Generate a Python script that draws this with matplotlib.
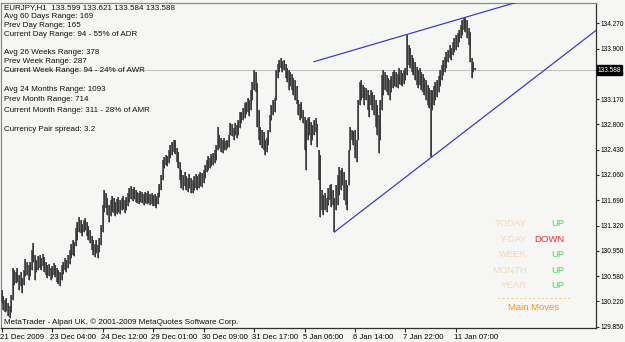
import matplotlib
matplotlib.use("Agg")
import matplotlib.pyplot as plt
import matplotlib.transforms as mtransforms

plt.rcParams['font.family'] = ['Liberation Sans', 'DejaVu Sans']

# ---- data: EURJPY H1 bars (high / low) ----
highs = [
130.38,130.30,130.24,130.27,130.20,130.15,130.31,130.71,130.68,130.65,
130.71,130.60,130.65,130.56,130.68,130.84,130.79,130.75,130.79,130.97,
131.07,130.89,130.82,130.88,130.89,130.85,130.91,130.87,130.79,130.75,
130.76,130.71,130.73,130.78,130.75,130.71,130.68,130.65,130.75,130.79,
130.85,130.82,130.89,130.97,131.05,131.11,131.08,131.29,131.37,131.45,
131.40,131.35,131.40,131.43,131.37,131.32,131.26,131.17,131.11,131.05,
131.11,131.04,131.14,131.33,131.62,131.84,131.80,131.72,131.62,131.70,
131.75,131.72,131.67,131.71,131.74,131.70,131.72,131.75,131.70,131.74,
131.80,131.87,131.90,131.86,131.89,131.84,131.81,131.80,131.83,131.81,
131.78,131.81,131.80,131.83,131.78,131.80,131.77,131.78,131.75,131.80,
131.93,132.06,132.28,132.32,132.35,132.34,132.42,132.50,132.54,132.57,
132.57,132.45,132.39,132.25,132.13,132.06,132.10,132.05,132.02,132.07,
132.02,131.99,132.05,132.07,132.05,132.07,132.10,132.09,132.13,132.21,
132.28,132.34,132.31,132.37,132.38,132.42,132.50,132.76,132.64,132.60,
132.57,132.60,132.56,132.57,132.64,132.82,132.80,132.74,132.82,132.79,
132.86,132.98,132.98,133.04,133.11,133.12,133.18,133.15,133.30,133.41,
133.59,133.56,133.40,133.01,132.76,132.72,132.69,132.57,132.60,132.72,
132.93,133.08,133.15,133.18,133.59,133.68,133.73,133.76,133.72,133.73,
133.68,133.62,133.59,133.56,133.53,133.47,133.44,133.36,133.15,133.09,
133.12,133.01,132.90,132.86,132.89,132.90,132.83,132.79,132.86,132.89,
132.80,132.42,132.35,131.84,131.77,131.80,131.72,131.87,131.91,131.93,
131.84,131.72,131.91,132.06,132.18,132.13,132.16,132.10,131.99,131.91,
132.42,132.76,132.72,132.70,132.72,132.57,133.15,133.41,133.44,133.37,
133.34,133.33,133.30,133.23,133.30,133.27,133.23,133.15,133.08,132.93,
133.15,133.52,133.59,133.56,133.52,133.47,133.44,133.50,133.56,133.59,
133.56,133.53,133.62,133.59,133.55,133.59,133.62,134.10,133.95,133.91,
133.81,133.76,133.71,133.63,133.59,133.62,133.56,133.53,133.47,133.44,
133.37,133.33,133.30,133.30,133.36,133.41,133.44,133.50,133.59,133.66,
133.73,133.78,133.85,133.88,133.95,133.91,134.00,134.06,134.10,134.13,
134.17,134.24,134.32,134.35,134.35,134.32,134.20,134.14,133.76,133.71,
133.621]
lows = [
130.20,130.09,130.06,130.08,130.01,129.98,130.06,130.24,130.46,130.49,
130.50,130.38,130.44,130.34,130.46,130.59,130.60,130.53,130.59,130.68,
130.79,130.53,130.65,130.68,130.71,130.68,130.73,130.65,130.60,130.56,
130.59,130.53,130.56,130.60,130.57,130.50,130.47,130.44,130.53,130.62,
130.68,130.65,130.71,130.76,130.85,130.89,130.88,131.03,131.11,131.23,
131.22,131.17,131.23,131.26,131.17,131.11,131.07,130.97,130.89,130.87,
130.92,130.85,130.94,131.04,131.23,131.52,131.58,131.48,131.37,131.46,
131.52,131.51,131.46,131.49,131.52,131.49,131.55,131.56,131.51,131.55,
131.61,131.67,131.71,131.68,131.71,131.67,131.65,131.64,131.67,131.65,
131.62,131.65,131.64,131.65,131.62,131.64,131.61,131.61,131.58,131.64,
131.74,131.84,131.99,132.16,132.21,132.19,132.24,132.31,132.35,132.39,
132.37,132.25,132.16,131.99,131.87,131.84,131.90,131.84,131.81,131.87,
131.80,131.80,131.84,131.87,131.84,131.87,131.90,131.89,131.94,132.02,
132.10,132.13,132.16,132.19,132.21,132.24,132.28,132.42,132.45,132.39,
132.38,132.42,132.42,132.45,132.47,132.64,132.63,132.57,132.64,132.60,
132.64,132.74,132.82,132.86,132.89,132.95,132.98,132.92,133.01,133.15,
133.30,133.27,132.76,132.57,132.50,132.45,132.42,132.35,132.39,132.50,
132.69,132.86,132.93,132.98,133.15,133.47,133.56,133.62,133.56,133.59,
133.47,133.41,133.30,133.36,133.30,133.23,133.15,133.09,132.93,132.86,
132.89,132.82,132.42,132.13,132.57,132.64,132.50,132.57,132.64,132.69,
132.47,131.99,131.45,131.55,131.48,131.55,131.52,131.62,131.70,131.59,
131.62,131.23,131.55,131.62,131.77,131.84,131.91,131.70,131.62,131.55,
131.91,132.42,132.57,132.50,132.31,132.25,132.57,133.08,133.15,133.18,
133.08,133.15,133.01,132.90,133.08,133.01,132.93,132.76,132.64,132.38,
132.57,133.01,133.23,133.30,133.27,133.23,133.15,133.27,133.33,133.36,
133.34,133.33,133.39,133.37,133.36,133.39,133.44,133.52,133.66,133.62,
133.56,133.52,133.44,133.37,133.33,133.37,133.30,133.27,133.23,133.15,
133.08,133.04,132.32,133.01,133.08,133.15,133.20,133.27,133.36,133.44,
133.52,133.56,133.62,133.71,133.76,133.73,133.81,133.85,133.88,133.92,
134.00,134.06,134.10,134.17,134.14,134.06,133.95,133.71,133.47,133.56,
133.584]

# trend lines (bar index, price)
upper_x = [198, 293]
upper_y = [133.71, 134.35]
lower_x = [211, 272]
lower_y = [131.23, 132.31]

last_price = 133.588

xtick_pos = [0, 32, 64, 96, 128, 160, 192, 224, 256, 288]
xtick_labels = ["21 Dec 2009", "23 Dec 04:00", "24 Dec 12:00", "29 Dec 01:00",
                "30 Dec 09:00", "31 Dec 17:00", "5 Jan 06:00", "6 Jan 14:00",
                "7 Jan 22:00", "11 Jan 07:00"]
ytick_labels = ["129.850", "130.220", "130.580", "130.950", "131.320", "131.690",
                "132.060", "132.430", "132.800", "133.170", "133.530", "133.900",
                "134.270"]
ytick_bottom = 129.850
ytick_top = 134.270

info_lines = [
    "EURJPY,H1  133.599 133.621 133.584 133.588",
    "Avg 60 Days Range: 169",
    "Prev Day Range: 165",
    "Current Day Range: 94 - 55% of ADR",
    "Avg 26 Weeks Range: 378",
    "Prev Week Range: 287",
    "Current Week Range: 94 - 24% of AWR",
    "Avg 24 Months Range: 1093",
    "Prev Month Range: 714",
    "Current Month Range: 311 - 28% of AMR",
    "Currency Pair spread: 3.2",
]
move_labels = ["TODAY", "Y-DAY", "WEEK", "MONTH", "YEAR"]
move_values = ["UP", "DOWN", "UP", "UP", "UP"]

# ---- figure ----
W, H = 625, 342
BG = '#f6f6f4'
fig = plt.figure(figsize=(W / 100, H / 100), dpi=100, facecolor=BG)
L, R, T, B = 1, 596, 3, 327.5
ax = fig.add_axes([L / W, (H - B) / H, (R - L) / W, (B - T) / H], facecolor=BG)

idx = list(range(len(highs)))
ax.vlines(idx, lows, highs, color='#5c5c5c', lw=1.35, zorder=3)
ax.vlines(idx, lows, highs, color='#2a2a2a', lw=0.5, zorder=3)

ax.axhline(last_price, color='#c4c4c4', lw=0.8, zorder=1)

xmax = 376.8
def ray(xs, ys):
    s = (ys[1] - ys[0]) / (xs[1] - xs[0])
    return [xs[0], xmax + 5], [ys[0], ys[0] + s * (xmax + 5 - xs[0])]
ux, uy = ray(upper_x, upper_y)
lx, ly = ray(lower_x, lower_y)
ax.plot(ux, uy, color='#3434c8', lw=0.85, zorder=4)
ax.plot(lx, ly, color='#3434c8', lw=0.85, zorder=4)

ax.set_xlim(-0.44, xmax)
ax.set_ylim(129.838, 134.565)

ax.set_xticks(xtick_pos)
ax.set_xticklabels(xtick_labels, ha='left', fontsize=5.6)
ax.tick_params(axis='x', direction='out', length=3, pad=1.5, color='#303030', width=0.8)
ax.yaxis.tick_right()
step = (ytick_top - ytick_bottom) / (len(ytick_labels) - 1)
ax.set_yticks([ytick_bottom + k * step for k in range(len(ytick_labels))])
ax.set_yticklabels(ytick_labels, fontsize=4.7)
ax.tick_params(axis='y', direction='out', length=2.5, pad=0.8, color='#303030', width=0.8)
for lab in ax.get_xticklabels():
    lab.set_transform(lab.get_transform() + mtransforms.ScaledTranslation(-2 / 100, 0, fig.dpi_scale_trans))

for sp in ['top', 'left']:
    ax.spines[sp].set_color('#8a8a8a')
    ax.spines[sp].set_linewidth(0.9)
for sp in ['right', 'bottom']:
    ax.spines[sp].set_color('#303030')
    ax.spines[sp].set_linewidth(0.9)

# current price box
trans = mtransforms.blended_transform_factory(ax.transAxes, ax.transData)
ax.text(1.003, last_price, f"{last_price:.3f}", transform=trans, ha='left', va='center',
        fontsize=4.7, color='white', clip_on=False, zorder=10,
        bbox=dict(boxstyle='square,pad=0.18', fc='black', ec='black'))

def ftxt(x, y, s, **kw):
    fig.text(x / W, 1 - y / H, s, **kw)

info_y = [7.3, 16.3, 25.4, 34.5, 52.6, 61.7, 70.8, 89.8, 99.8, 110.6, 129.3]
for s, y in zip(info_lines, info_y):
    ftxt(4, y, s, fontsize=5.8, color='#111111', va='center', ha='left')

ftxt(4, 322.5, "MetaTrader - Alpari UK, \u00a9 2001-2009 MetaQuotes Software Corp.",
     fontsize=5.8, color='#111111', va='center', ha='left')

row_y = [224, 239.5, 254.5, 270.5, 286]
for lab, val, y in zip(move_labels, move_values, row_y):
    ftxt(527, y, lab, fontsize=6.8, color='#f4d8bc', va='center', ha='right')
    ftxt(564, y, val, fontsize=6.8, color='#ff2a2a' if val == 'DOWN' else '#3ae83a',
         va='center', ha='right')
ftxt(534, 298.5, "- - - - - - - - - - - - - - - - -", fontsize=5, color='#ff9a30',
     va='center', ha='center')
ftxt(534, 307, "Main Moves", fontsize=6.8, color='#ff9020', va='center', ha='center')

fig.savefig("out.png", dpi=100, facecolor=BG)
